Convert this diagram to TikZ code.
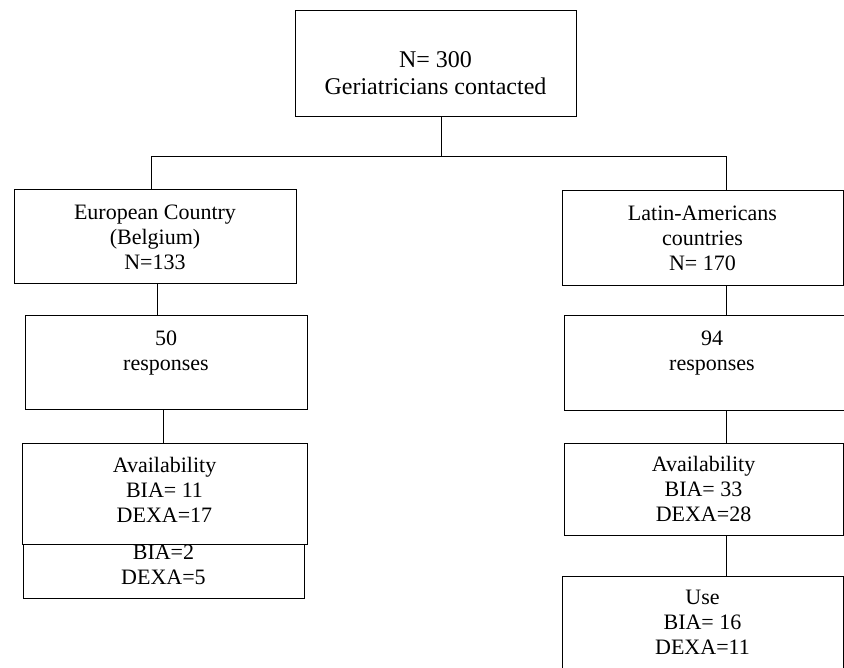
\documentclass[tikz,border=0pt]{standalone}
\usepackage{fontspec}
\setmainfont{Liberation Serif}
\usepackage{tikz}
\tikzset{
	flow chart/.style={
		x=1pt, y=-1pt,
		line width=1pt,
		every node/.style={font=\fontsize{22}{25}\selectfont}
		},
	bx/.style 2 args={draw, fill=white, align=center, inner sep=0pt,
		minimum width=#1pt, minimum height=#2pt},
	big text/.style={font=\fontsize{24}{27}\selectfont}
}
% struts to push the text of a box up or down
\newcommand{\padtop}[1]{\rule{0pt}{#1pt}}
\newcommand{\paddown}[1]{\rule[-#1pt]{0pt}{#1pt}}

\begin{document}
\begin{tikzpicture}[flow chart]
	\clip (0,0) rectangle (844,668);
	\node [bx={281}{106}, big text] (geri) at (435.5,64) {\padtop{35}N= 300\\Geriatricians contacted};
	% European side
	\node [bx={282}{94}] (eu) at (155,237) {European Country\\(Belgium)\\N=133};
	\node [bx={282}{94}] (euresp) at (166,363) {50\\responses\\~};
	\node [bx={281}{66}] (euuse) at (163.5,565) {BIA=2\\DEXA=5};
	\node [bx={285}{101}] (euavail) at (164.5,493.5) {Availability\\BIA= 11\\DEXA=17\paddown{7}};
	% Latin-American side
	\node [bx={281}{95}] (la) at (702.5,238.5) {Latin-Americans\\countries\\N= 170};
	\node [bx={296}{95}] (laresp) at (712,363.5) {94\\responses\\~};
	\node [bx={279}{92}] (laavail) at (703.5,489) {Availability\\BIA= 33\\DEXA=28};
	\node [bx={281}{117}] (lause) at (702.5,634.5) {Use\\BIA= 16\\DEXA=11\\~};
	% connectors
	\coordinate (split) at (441,157);
	\coordinate (lbus) at (151,157);
	\coordinate (rbus) at (726.5,157);
	\draw (geri.south -| split) -- (split);
	\draw (lbus) -- (rbus);
	\draw (lbus) -- (lbus |- eu.north);
	\draw (rbus) -- (rbus |- la.north);
	\draw ([xshift=2pt]eu.south) -- ([xshift=2pt]eu.south |- euresp.north);
	\draw ([xshift=-3pt]euresp.south) -- ([xshift=-3pt]euresp.south |- euavail.north);
	\draw (la.south -| rbus) -- (laresp.north -| rbus);
	\draw (laresp.south -| rbus) -- (laavail.north -| rbus);
	\draw (laavail.south -| rbus) -- (lause.north -| rbus);
\end{tikzpicture}
\end{document}
